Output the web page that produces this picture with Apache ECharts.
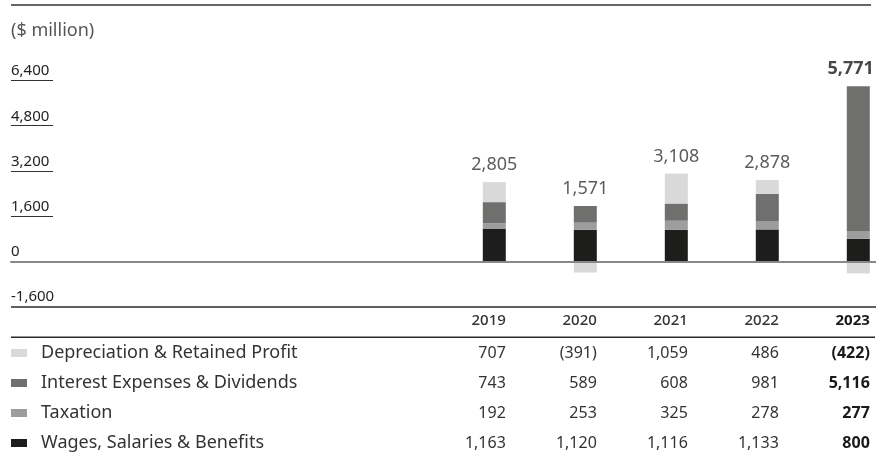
<!DOCTYPE html>
<html>
<head>
<meta charset="utf-8">
<script src="https://cdn.jsdelivr.net/npm/echarts@6/dist/echarts.min.js"></script>
<style>
  html, body { margin: 0; padding: 0; background: #fff; }
  #chart { width: 876px; height: 453px; }
</style>
</head>
<body>
<div id="chart"></div>
<script>
// Value added distribution, $ million
const years = [2019, 2020, 2021, 2022, 2023];
const depreciation = [707, -391, 1059, 486, -422];   // Depreciation & Retained Profit
const interest = [743, 589, 608, 981, 5116];         // Interest Expenses & Dividends
const taxation = [192, 253, 325, 278, 277];          // Taxation
const wages = [1163, 1120, 1116, 1133, 800];         // Wages, Salaries & Benefits
const yTicks = [-1600, 0, 1600, 3200, 4800, 6400];

const names = {
  dep: 'Depreciation & Retained Profit',
  int: 'Interest Expenses & Dividends',
  tax: 'Taxation',
  wag: 'Wages, Salaries & Benefits'
};
const colors = { dep: '#d9d9d9', int: '#6f6f6e', tax: '#9d9d9d', wag: '#1d1d1b' };
const FONT = '"Noto Sans", "Open Sans", sans-serif';
const BAR_W = 23;
const lastYear = years[years.length - 1];

const fmt = v => Math.abs(v).toLocaleString('en-US');
const fmtSigned = v => v < 0 ? '(' + fmt(v) + ')' : fmt(v);

const positiveTop = years.map((_, i) =>
  [depreciation, interest, taxation, wages].reduce((s, a) => s + Math.max(a[i], 0), 0));
const netTotal = years.map((_, i) => depreciation[i] + interest[i] + taxation[i] + wages[i]);

// value first, year second: the stacked dimension must be the value column
const pair = arr => years.map((y, i) => [arr[i], y]);

const chart = echarts.init(document.getElementById('chart'), null, { renderer: 'canvas' });

const gridTop = 80.5, gridBottom = 146.3;
const yMin = yTicks[0], yMax = yTicks[yTicks.length - 1], yStep = yTicks[1] - yTicks[0];

function barSeries(key, arr) {
  return {
    name: names[key], type: 'bar', stack: 'total', barWidth: BAR_W,
    xAxisIndex: 0, yAxisIndex: 0,
    encode: { x: 1, y: 0 },
    itemStyle: { color: colors[key] },
    data: pair(arr)
  };
}

const option = {
  animation: false,
  textStyle: { fontFamily: FONT },
  grid: [
    { left: 11, right: 0, top: gridTop, bottom: gridBottom },
    { left: 11, width: 42, top: gridTop, bottom: gridBottom }
  ],
  xAxis: [
    {
      gridIndex: 0, type: 'value', min: 2013.689, max: 2023.1945, z: 5,
      axisLine: { show: true, onZero: true, lineStyle: { color: '#888', width: 2 } },
      axisTick: { show: false }, axisLabel: { show: false }, splitLine: { show: false }
    },
    {
      gridIndex: 1, type: 'value', min: 0, max: 1, show: false
    }
  ],
  yAxis: [
    {
      gridIndex: 0, type: 'value', min: yMin, max: yMax, interval: yStep,
      axisLine: { show: false }, axisTick: { show: false }, axisLabel: { show: false },
      splitLine: {
        show: true,
        lineStyle: { width: 1.5, color: ['#2b2b2b', 'transparent', 'transparent', 'transparent', 'transparent', 'transparent'] }
      }
    },
    {
      gridIndex: 1, type: 'value', min: yMin, max: yMax, interval: yStep,
      axisLine: { show: false }, axisTick: { show: false },
      axisLabel: {
        inside: true, margin: 0, align: 'left', verticalAlign: 'bottom',
        padding: [0, 0, 2, 0],
        fontSize: 15, color: '#222', fontFamily: FONT,
        formatter: v => (v < 0 ? '-' : '') + fmt(v)
      },
      splitLine: {
        show: true,
        lineStyle: { width: 1, color: ['transparent', 'transparent', '#333', '#333', '#333', '#333'] }
      }
    }
  ],
  legend: {
    orient: 'vertical', left: 11, top: 343, padding: 0,
    itemWidth: 16, itemHeight: 8, itemGap: 10, icon: 'rect',
    selectedMode: false,
    data: [names.dep, names.int, names.tax, names.wag],
    textStyle: { fontSize: 18, lineHeight: 20, color: '#333', fontFamily: FONT, padding: [0, 0, 0, 9] }
  },
  series: [
    barSeries('wag', wages),
    barSeries('tax', taxation),
    barSeries('int', interest),
    barSeries('dep', depreciation),
    {
      name: 'total', type: 'scatter', xAxisIndex: 0, yAxisIndex: 0,
      encode: { x: 1, y: 0 },
      symbolSize: 0, itemStyle: { color: 'transparent' }, silent: true, z: 6,
      data: years.map((y, i) => ({
        value: [positiveTop[i], y],
        // the last total sits flush with the right edge of the chart
        label: y === lastYear
          ? { fontWeight: 'bold', color: '#1a1a1a', align: 'right', offset: [BAR_W / 2 + 4, 0] }
          : {}
      })),
      label: {
        show: true, position: 'top', distance: 8,
        fontSize: 18, color: '#333', fontFamily: FONT,
        formatter: p => fmtSigned(netTotal[p.dataIndex])
      }
    }
  ]
};

chart.setOption(option);

// Rules, unit caption and the data table below the plot
const graphics = [
  { type: 'line', shape: { x1: 11, y1: 5, x2: 871, y2: 5 }, style: { stroke: '#666', lineWidth: 2 } },
  { type: 'line', shape: { x1: 11, y1: 337.3, x2: 875, y2: 337.3 }, style: { stroke: '#2b2b2b', lineWidth: 1.5 } },
  { type: 'text', style: { text: '($ million)', x: 11, y: 31, verticalAlign: 'middle', font: '18px ' + FONT, fill: '#555' } }
];

const rows = [depreciation, interest, taxation, wages];
const rowY = [353, 383, 413, 443];
const headerY = 321;

years.forEach((y, i) => {
  const cx = chart.convertToPixel({ xAxisIndex: 0 }, y);
  const right = cx + BAR_W / 2;
  const bold = y === lastYear;
  graphics.push({
    type: 'text',
    style: {
      text: String(y), x: right, y: headerY, align: 'right', verticalAlign: 'middle',
      font: (bold ? 'bold ' : '500 ') + '15px ' + FONT, fill: bold ? '#1a1a1a' : '#333'
    }
  });
  rows.forEach((arr, r) => {
    graphics.push({
      type: 'text',
      style: {
        text: fmtSigned(arr[i]), x: right, y: rowY[r], align: 'right', verticalAlign: 'middle',
        font: (bold ? 'bold ' : '') + '16px ' + FONT, fill: bold ? '#1a1a1a' : '#333'
      }
    });
  });
});

chart.setOption({ graphic: graphics });
</script>
</body>
</html>
